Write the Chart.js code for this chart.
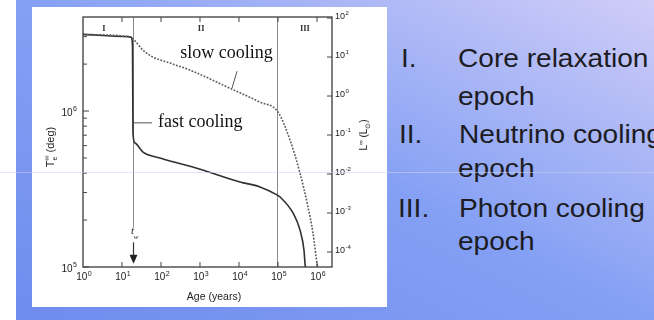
<!DOCTYPE html>
<html>
<head>
<meta charset="utf-8">
<script src="https://cdn.jsdelivr.net/npm/chart.js@4.4.0/dist/chart.umd.min.js"></script>
<style>
  html, body { margin: 0; padding: 0; width: 654px; height: 320px; overflow: hidden; background: #fff; }
  #slide { position: absolute; left: 16px; top: 0; width: 638px; height: 320px;
           background: linear-gradient(to top right, #6f8cee 0%, #84a0f4 50%, #d0cdf8 100%); }
  #panel { position: absolute; left: 32px; top: 7px; width: 355px; height: 300px; background: #fff; }
  #c { position: absolute; left: 32px; top: 7px; }
  .ln { position: absolute; font-family: "Liberation Sans", Arial, sans-serif; font-size: 26px;
        line-height: 26px; color: #1c1c22; white-space: nowrap; transform: scaleX(1.08); transform-origin: left center; }
  #scan { position: absolute; left: 0; top: 172px; width: 654px; height: 1px; background: rgba(205, 210, 236, 0.55); }
</style>
</head>
<body>
<div id="slide"></div>
<div id="panel"></div>
<canvas id="c" width="355" height="300"></canvas>

<div class="ln" style="left:401px;top:45px">I.</div>
<div class="ln" style="left:458px;top:45px">Core relaxation</div>
<div class="ln" style="left:458px;top:83px">epoch</div>
<div class="ln" style="left:399px;top:121px">II.</div>
<div class="ln" style="left:459px;top:121px">Neutrino cooling</div>
<div class="ln" style="left:458px;top:155px">epoch</div>
<div class="ln" style="left:398px;top:195px">III.</div>
<div class="ln" style="left:459px;top:195px">Photon cooling</div>
<div class="ln" style="left:458px;top:228px">epoch</div>
<div id="scan"></div>

<script>
// Neutron star surface temperature (T_e, K) versus age (years)
const slowAge  = [1, 14.3, 18, 34.5, 62, 170, 555, 5875, 34500, 1.0e5, 2.03e5, 3.66e5, 5.87e5, 7.9e5, 1.0e6, 1.07e6];
const slowTemp = [3.1e6, 3.0e6, 2.94e6, 2.46e6, 2.22e6, 2.03e6, 1.83e6, 1.40e6, 1.14e6, 9.86e5, 6.52e5, 4.01e5, 2.43e5, 1.65e5, 1.06e5, 0.98e5];

const fastAge  = [1, 14.3, 17, 18.6, 19.1, 21.6, 34.5, 94, 960, 1.06e4, 3.45e4, 9.4e4, 1.13e5, 2.43e5, 3.66e5, 4.64e5, 4.92e5, 5.1e5];
const fastTemp = [3.1e6, 3.0e6, 2.98e6, 2.65e6, 7.22e5, 6.24e5, 5.46e5, 5.0e5, 4.25e5, 3.51e5, 3.26e5, 2.90e5, 2.81e5, 2.22e5, 1.73e5, 1.28e5, 1.06e5, 0.98e5];

// Axis ticks
const ageTicks   = [1, 10, 100, 1e3, 1e4, 1e5, 1e6];
const tempMajor  = [1e5, 1e6];
const tempMinor  = [2e5, 3e5, 4e5, 5e5, 6e5, 7e5, 8e5, 9e5, 2e6, 3e6];
const lumTicks   = [1e-4, 1e-3, 1e-2, 1e-1, 1, 10, 100];

// Epochs
const epochNames    = ['I', 'II', 'III'];
const epochLabelAge = [3.45, 1070, 4.9e5];
const epochBounds   = [19, 9.7e4];
const coolingAge    = 19;   // t_w

const SANS = '"Liberation Sans", Arial, sans-serif';
const SERIF = '"Liberation Serif", "Times New Roman", serif';

function pow10(ctx, v, x, y, align, size) {
  const exp = String(Math.round(Math.log10(v)));
  const ss = Math.round(size * 0.7);
  ctx.font = size + 'px ' + SANS;
  const wb = ctx.measureText('10').width;
  ctx.font = ss + 'px ' + SANS;
  const ws = ctx.measureText(exp).width;
  const w = wb + ws + 0.5;
  const x0 = align === 'center' ? x - w / 2 : align === 'right' ? x - w : x;
  ctx.textAlign = 'left';
  ctx.textBaseline = 'alphabetic';
  ctx.font = size + 'px ' + SANS;
  ctx.fillText('10', x0, y);
  ctx.font = ss + 'px ' + SANS;
  ctx.fillText(exp, x0 + wb + 0.5, y - size * 0.42);
}

const framePlugin = {
  id: 'frame',
  beforeDatasetsDraw(chart) {
    const { ctx, chartArea: a, scales } = chart;
    const xs = scales.x, ys = scales.y;
    ctx.save();
    ctx.strokeStyle = '#8a8a8a';
    ctx.lineWidth = 1;
    // boundary between epochs I and II stops above the t_w marker
    let px = Math.round(xs.getPixelForValue(epochBounds[0])) + 0.5;
    ctx.beginPath(); ctx.moveTo(px, a.top); ctx.lineTo(px, ys.getPixelForValue(1.78e5)); ctx.stroke();
    px = Math.round(xs.getPixelForValue(epochBounds[1])) + 0.5;
    ctx.beginPath(); ctx.moveTo(px, a.top); ctx.lineTo(px, a.bottom); ctx.stroke();
    ctx.restore();
  },
  afterDraw(chart) {
    const { ctx, chartArea: a, scales } = chart;
    const xs = scales.x, ys = scales.y, yl = scales.yL;
    ctx.save();
    // frame
    ctx.strokeStyle = '#3a3a3a';
    ctx.lineWidth = 1.3;
    ctx.strokeRect(a.left, a.top, a.right - a.left, a.bottom - a.top);

    ctx.lineWidth = 1;
    ctx.strokeStyle = '#444';
    ctx.beginPath();
    ageTicks.forEach(v => {
      const x = xs.getPixelForValue(v);
      if (v > 1) {
        ctx.moveTo(x, a.bottom); ctx.lineTo(x, a.bottom - 5);
        ctx.moveTo(x, a.top); ctx.lineTo(x, a.top + 5);
      }
    });
    tempMajor.forEach(v => { const y = ys.getPixelForValue(v); ctx.moveTo(a.left, y); ctx.lineTo(a.left + 6, y); });
    tempMinor.forEach(v => { const y = ys.getPixelForValue(v); ctx.moveTo(a.left, y); ctx.lineTo(a.left + 4, y); });
    lumTicks.forEach(v => { const y = yl.getPixelForValue(v); ctx.moveTo(a.right, y); ctx.lineTo(a.right - 5, y); });
    ctx.stroke();

    // tick labels
    ctx.fillStyle = '#222';
    ageTicks.forEach(v => pow10(ctx, v, xs.getPixelForValue(v) + 1, a.bottom + 13, 'center', 10));
    tempMajor.forEach(v => pow10(ctx, v, a.left - 6, ys.getPixelForValue(v) + 4.5, 'right', 10));
    lumTicks.forEach(v => pow10(ctx, v, a.right + 3, yl.getPixelForValue(v) + 1, 'left', 9));

    // axis titles
    ctx.textBaseline = 'alphabetic';
    ctx.font = '10.5px ' + SANS;
    ctx.textAlign = 'center';
    ctx.fillText('Age (years)', a.left + 131, a.bottom + 33);

    // left title: T_e^∞ (deg)
    ctx.save();
    ctx.translate(a.left - 29, a.top + 130);
    ctx.rotate(-Math.PI / 2);
    ctx.textAlign = 'left';
    ctx.font = '11px ' + SANS;
    const tW = ctx.measureText('T').width;
    ctx.font = '7px ' + SANS;
    const sW = ctx.measureText('∞').width;
    ctx.font = '11px ' + SANS;
    const rest = ' (deg)';
    const rW = ctx.measureText(rest).width;
    let x0 = -(tW + sW + rW) / 2;
    ctx.fillText('T', x0, 0);
    ctx.font = '7px ' + SANS;
    ctx.fillText('∞', x0 + tW, -5);
    ctx.fillText('e', x0 + tW, 3);
    ctx.font = '11px ' + SANS;
    ctx.fillText(rest, x0 + tW + sW, 0);
    ctx.restore();

    // right title: L^∞ (L_⊙)
    ctx.save();
    ctx.translate(a.right + 35, a.top + 118);
    ctx.rotate(-Math.PI / 2);
    ctx.textAlign = 'left';
    ctx.font = '10px ' + SANS;
    const lW = ctx.measureText('L').width;
    const pW = ctx.measureText(' (L').width;
    const cW = ctx.measureText(')').width;
    ctx.font = '6.5px ' + SANS;
    const iW = ctx.measureText('∞').width;
    const oW = ctx.measureText('⊙').width;
    x0 = -(lW + iW + pW + oW + cW) / 2;
    ctx.font = '10px ' + SANS;
    ctx.fillText('L', x0, 0);
    ctx.font = '6.5px ' + SANS;
    ctx.fillText('∞', x0 + lW, -4.5);
    ctx.font = '10px ' + SANS;
    ctx.fillText(' (L', x0 + lW + iW, 0);
    ctx.font = '6.5px ' + SANS;
    ctx.fillText('⊙', x0 + lW + iW + pW, 2.5);
    ctx.font = '10px ' + SANS;
    ctx.fillText(')', x0 + lW + iW + pW + oW, 0);
    ctx.restore();

    // epoch names
    ctx.font = 'bold 8.5px ' + SERIF;
    ctx.textAlign = 'center';
    ctx.fillStyle = '#333';
    epochNames.forEach((n, i) => ctx.fillText(n, xs.getPixelForValue(epochLabelAge[i]), a.top + 14));

    // curve labels with pointers
    ctx.fillStyle = '#111';
    ctx.font = '18px ' + SERIF;
    ctx.textAlign = 'left';
    ctx.fillText('slow cooling', xs.getPixelForValue(310), ys.getPixelForValue(2.2e6));
    ctx.fillText('fast cooling', xs.getPixelForValue(84), ys.getPixelForValue(7.9e5));
    ctx.strokeStyle = '#555';
    ctx.lineWidth = 1;
    ctx.beginPath();
    ctx.moveTo(xs.getPixelForValue(8900), ys.getPixelForValue(1.80e6));
    ctx.lineTo(xs.getPixelForValue(6600), ys.getPixelForValue(1.40e6));
    ctx.moveTo(xs.getPixelForValue(20.3), ys.getPixelForValue(8.4e5));
    ctx.lineTo(xs.getPixelForValue(58.8), ys.getPixelForValue(8.4e5));
    ctx.stroke();

    // t_w marker with arrow
    const wx = Math.round(xs.getPixelForValue(coolingAge)) + 0.5;
    ctx.fillStyle = '#222';
    ctx.font = 'italic 11px ' + SERIF;
    ctx.textAlign = 'center';
    ctx.fillText('t', wx - 1, ys.getPixelForValue(1.62e5));
    ctx.font = 'italic 7px ' + SERIF;
    ctx.fillText('w', wx + 2.5, ys.getPixelForValue(1.52e5));
    ctx.strokeStyle = '#333';
    ctx.lineWidth = 1.2;
    ctx.beginPath();
    ctx.moveTo(wx, ys.getPixelForValue(1.44e5));
    ctx.lineTo(wx, ys.getPixelForValue(1.14e5));
    ctx.stroke();
    const tipY = ys.getPixelForValue(1.05e5);
    ctx.beginPath();
    ctx.moveTo(wx - 4, tipY - 9);
    ctx.lineTo(wx + 4, tipY - 9);
    ctx.lineTo(wx, tipY);
    ctx.closePath();
    ctx.fill();
    ctx.restore();
  }
};

new Chart(document.getElementById('c'), {
  type: 'line',
  data: {
    datasets: [
      {
        label: 'slow cooling',
        data: slowAge.map((a, i) => ({ x: a, y: slowTemp[i] })),
        borderColor: '#5a5a5a',
        borderWidth: 1.6,
        borderDash: [1.8, 1.5],
        pointRadius: 0,
        cubicInterpolationMode: 'monotone',
        fill: false
      },
      {
        label: 'fast cooling',
        data: fastAge.map((a, i) => ({ x: a, y: fastTemp[i] })),
        borderColor: '#303030',
        borderWidth: 1.6,
        pointRadius: 0,
        cubicInterpolationMode: 'monotone',
        fill: false
      }
    ]
  },
  options: {
    responsive: false,
    animation: false,
    events: [],
    layout: { padding: { left: 51, right: 55, top: 10, bottom: 40 } },
    plugins: { legend: { display: false }, tooltip: { enabled: false } },
    scales: {
      x: { type: 'logarithmic', display: false, min: 1, max: Math.pow(10, 6.385) },
      y: { type: 'logarithmic', display: false, min: 1e5, max: Math.pow(10, 6.603) },
      yL: { type: 'logarithmic', display: false, position: 'right', min: Math.pow(10, -4.385), max: Math.pow(10, 2.027) }
    }
  },
  plugins: [framePlugin]
});
</script>
</body>
</html>
